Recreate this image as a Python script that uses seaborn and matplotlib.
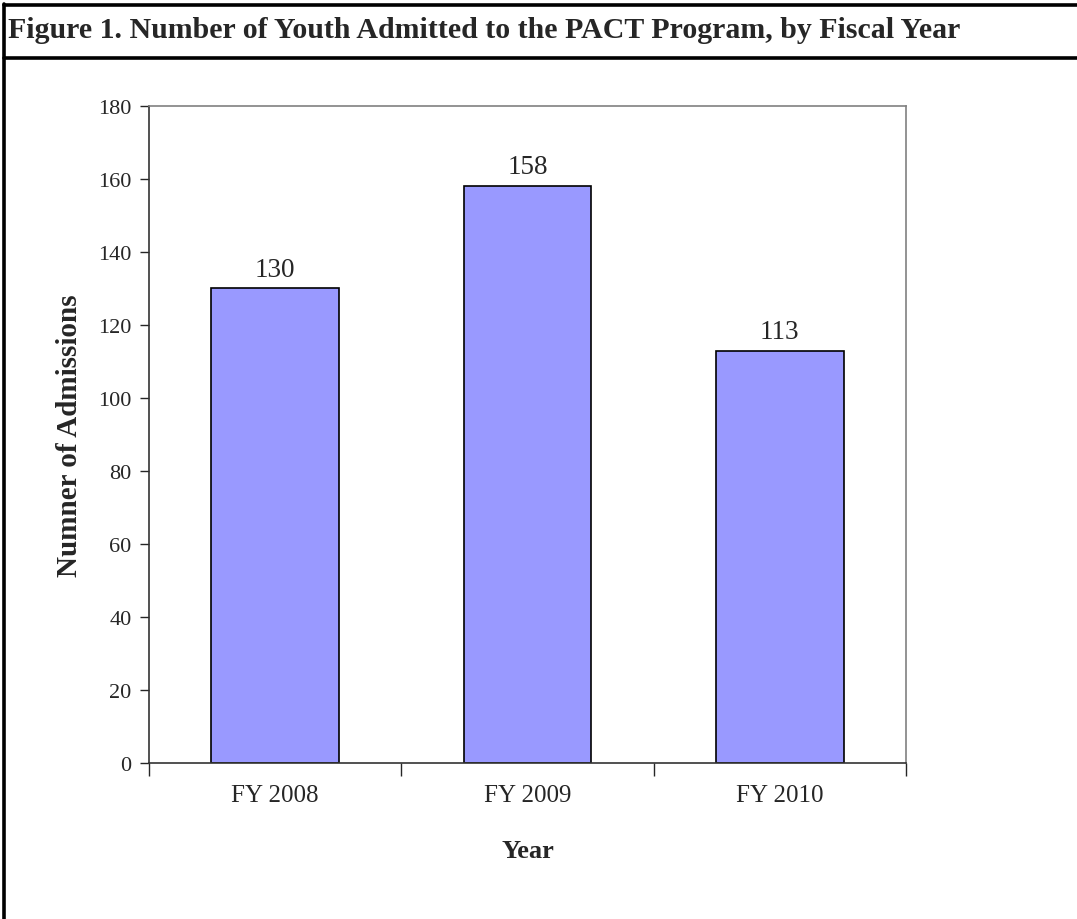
import matplotlib
matplotlib.use("Agg")
import matplotlib.pyplot as plt
import seaborn as sns
import pandas as pd
from matplotlib.lines import Line2D

categories = ["FY 2008", "FY 2009", "FY 2010"]
values = [130, 158, 113]
yticks = [0, 20, 40, 60, 80, 100, 120, 140, 160, 180]

sns.set_style("white")
plt.rcParams['font.family'] = ['Liberation Serif', 'DejaVu Serif']

df = pd.DataFrame({"Year": categories, "Admissions": values})

W, H = 1077, 920
fig = plt.figure(figsize=(W / 100, H / 100), dpi=100)
ax = fig.add_axes([149 / W, 1 - 764 / H, (906 - 149) / W, (764 - 107) / H])

sns.barplot(data=df, x="Year", y="Admissions", color="#9999FF", saturation=1,
            width=0.505, edgecolor="black", linewidth=1.2, ax=ax)

ax.set_ylim(0, 180)
ax.set_xlim(-0.5, 2.5)
ax.set_yticks(yticks)
ax.set_yticklabels([str(t) for t in yticks], fontsize=16)
ax.set_xticks([0, 1, 2])
ax.set_xticklabels(categories, fontsize=18)
ax.tick_params(axis='x', length=0, pad=15)
ax.tick_params(axis='y', length=6.5, width=1, direction='out', pad=6, left=True)

# category separator ticks
ax.set_xticks([-0.5, 0.5, 1.5, 2.5], minor=True)
ax.tick_params(axis='x', which='minor', length=9, width=1, direction='out', bottom=True)

for s in ['top', 'right']:
    ax.spines[s].set_color('#808080')
    ax.spines[s].set_linewidth(1.2)
for s in ['left', 'bottom']:
    ax.spines[s].set_color('#333333')
    ax.spines[s].set_linewidth(1.2)

for i, v in enumerate(values):
    ax.annotate(str(v), (i, v), xytext=(0, 5), textcoords='offset points',
                ha='center', va='bottom', fontsize=19.5)

ax.set_xlabel("Year", fontsize=19, fontweight='bold', labelpad=24)
ax.set_ylabel("Numner of Admissions", fontsize=21, fontweight='bold', labelpad=11)

# title box lines
fig.add_artist(Line2D([4 / W, 1], [1 - 6 / H, 1 - 6 / H], color='black', lw=2.6,
                      transform=fig.transFigure))
fig.add_artist(Line2D([4 / W, 1], [1 - 59 / H, 1 - 59 / H], color='black', lw=2.6,
                      transform=fig.transFigure))
fig.add_artist(Line2D([4 / W, 4 / W], [1 - 5 / H, 0], color='black', lw=2.6,
                      transform=fig.transFigure))
fig.text(8 / W, 1 - 31 / H, "Figure 1. Number of Youth Admitted to the PACT Program, by Fiscal Year",
         fontsize=21.5, fontweight='bold', ha='left', va='center')

fig.savefig("out.png", dpi=100)
